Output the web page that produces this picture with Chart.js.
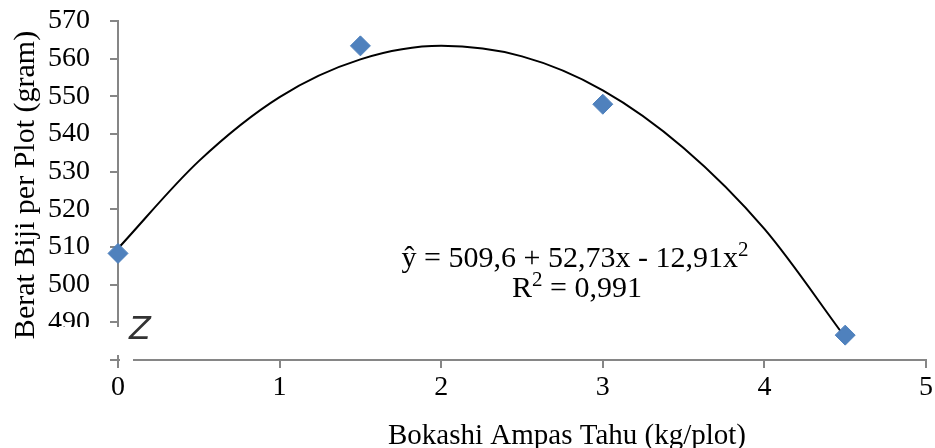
<!DOCTYPE html>
<html>
<head>
<meta charset="utf-8">
<script src="https://cdn.jsdelivr.net/npm/chart.js@4.4.1/dist/chart.umd.min.js"></script>
<style>
  html, body { margin: 0; padding: 0; background: #fff; }
  #wrap { width: 935px; height: 448px; }
</style>
</head>
<body>
<div id="wrap"><canvas id="chart" width="935" height="448"></canvas></div>
<script>
// observed values
const dosis = [0, 1.5, 3, 4.5];
const beratBiji = [508.3, 563.4, 547.9, 486.6];

// trend curve
const trendX = [0, 0.5, 1, 1.5, 2, 2.5, 3, 3.5, 4, 4.5];
const trendY = [509.6, 532.8, 549.8, 559.8, 563.4, 560.6, 551.6, 536.3, 514.8, 486.0];

const xTicks = [0, 1, 2, 3, 4, 5];
const yTicks = [480, 490, 500, 510, 520, 530, 540, 550, 560, 570];

const equation = ['ŷ = 509,6 + 52,73x - 12,91x', 'R', ' = 0,991'];
const xTitle = 'Bokashi Ampas Tahu (kg/plot)';
const yTitle = 'Berat Biji per Plot (gram)';

const font = '"Liberation Serif", "Times New Roman", serif';

// text with a raised "2"
function supText(ctx, parts, cx, y, size) {
  ctx.font = size + 'px ' + font;
  const w0 = ctx.measureText(parts[0]).width;
  const w2 = parts[1] ? ctx.measureText(parts[1]).width : 0;
  ctx.font = Math.round(size * 0.7) + 'px ' + font;
  const ws = ctx.measureText('2').width;
  let x = cx - (w0 + ws + w2) / 2;
  ctx.textAlign = 'left';
  ctx.font = size + 'px ' + font;
  ctx.fillText(parts[0], x, y);
  x += w0;
  ctx.font = Math.round(size * 0.7) + 'px ' + font;
  ctx.fillText('2', x, y - size * 0.38);
  x += ws;
  if (parts[1]) {
    ctx.font = size + 'px ' + font;
    ctx.fillText(parts[1], x, y);
  }
}

// draws titles, equation and the axis-break mark
const extras = {
  id: 'extras',
  afterDraw(chart) {
    const ctx = chart.ctx;
    ctx.save();

    // axis break
    ctx.fillStyle = '#fff';
    ctx.fillRect(40, 327, 120, 13);
    ctx.fillRect(112, 340, 40, 15);
    ctx.fillRect(120, 355, 13, 8);
    ctx.fillStyle = '#333';
    ctx.font = 'italic 32px "DejaVu Sans", sans-serif';
    ctx.textAlign = 'center';
    ctx.textBaseline = 'middle';
    ctx.fillText('Z', 140, 331);

    ctx.fillStyle = '#000';
    ctx.textBaseline = 'alphabetic';
    ctx.font = '29px ' + font;
    ctx.fillText(xTitle, 567, 444);

    supText(ctx, [equation[0]], 575, 267, 30);
    supText(ctx, [equation[1], equation[2]], 577, 297, 30);

    ctx.translate(34, 185);
    ctx.rotate(-Math.PI / 2);
    ctx.textAlign = 'center';
    ctx.font = '30px ' + font;
    ctx.fillText(yTitle, 0, 0);
    ctx.restore();
  }
};

new Chart(document.getElementById('chart'), {
  type: 'scatter',
  data: {
    datasets: [
      {
        label: 'trend',
        type: 'line',
        data: trendX.map((x, i) => ({ x: x, y: trendY[i] })),
        borderColor: '#000',
        borderWidth: 2,
        pointRadius: 0,
        cubicInterpolationMode: 'monotone',
        fill: false,
        clip: false,
        order: 2
      },
      {
        label: 'Berat biji',
        data: dosis.map((x, i) => ({ x: x, y: beratBiji[i] })),
        backgroundColor: '#4F81BD',
        borderColor: '#4F81BD',
        pointStyle: 'rectRot',
        pointRadius: 10,
        clip: false,
        order: 1
      }
    ]
  },
  options: {
    responsive: false,
    animation: false,
    layout: { autoPadding: false, padding: { top: 21, right: 9, left: 0, bottom: 0 } },
    plugins: {
      legend: { display: false },
      tooltip: { enabled: false }
    },
    scales: {
      x: {
        type: 'linear',
        min: 0,
        max: 5,
        afterBuildTicks: s => { s.ticks = xTicks.map(v => ({ value: v })); },
        afterFit: s => { s.height = 88; s.paddingLeft = 0; s.paddingRight = 0; },
        grid: { drawOnChartArea: false, drawTicks: true, tickLength: 8, color: '#868686', lineWidth: 2 },
        border: { color: '#868686', width: 2 },
        ticks: { color: '#000', font: { family: font, size: 28 }, padding: 3, autoSkip: false, maxRotation: 0 }
      },
      y: {
        min: 480,
        max: 570,
        afterBuildTicks: s => { s.ticks = yTicks.map(v => ({ value: v })); },
        afterFit: s => { s.width = 118; s.paddingTop = 0; s.paddingBottom = 0; },
        grid: { drawOnChartArea: false, drawTicks: true, tickLength: 8, color: '#868686', lineWidth: 2 },
        border: { color: '#868686', width: 2 },
        ticks: {
          color: '#000',
          font: { family: font, size: 28, lineHeight: 1 },
          padding: 20,
          autoSkip: false,
          callback: v => (v === 480 ? '' : v)
        }
      }
    }
  },
  plugins: [extras]
});
</script>
</body>
</html>
